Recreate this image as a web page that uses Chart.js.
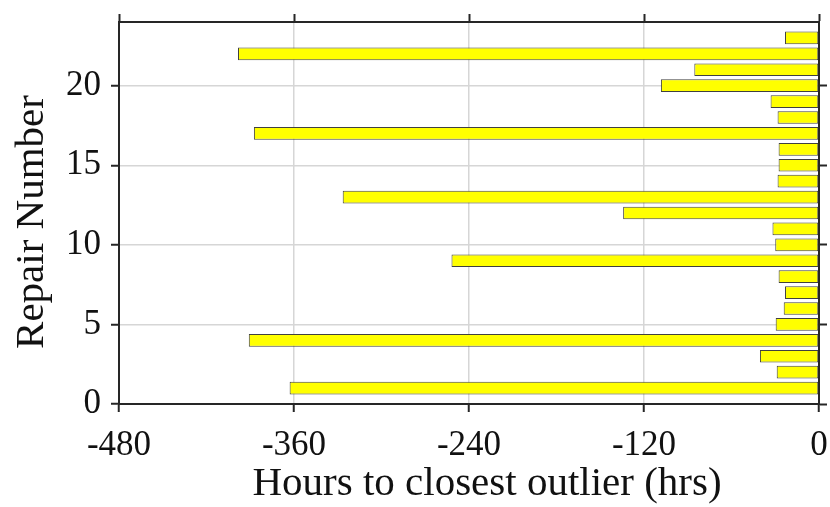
<!DOCTYPE html>
<html>
<head>
<meta charset="utf-8">
<script src="https://cdn.jsdelivr.net/npm/chart.js@4/dist/chart.umd.min.js"></script>
<style>
  html, body { margin: 0; padding: 0; background: #fff; }
  #wrap { width: 830px; height: 507px; }
</style>
</head>
<body>
<div id="wrap"><canvas id="repair-chart" width="830" height="507"></canvas></div>
<script>
// repair numbers and hours to the closest outlier
var repairNumbers = [1, 2, 3, 4, 5, 6, 7, 8, 9, 10, 11, 12, 13, 14, 15, 16, 17, 18, 19, 20, 21, 22, 23];
var hoursToOutlier = [-363, -29, -40.5, -391, -29.7, -24.2, -23.3, -27.7, -252, -30, -31.9, -134.3,
                      -326.6, -28.4, -27.7, -27.7, -387.5, -28.4, -33.2, -108.4, -85.5, -398.4, -23.3];
var xTicks = [-480, -360, -240, -120, 0];
var yTicks = [0, 5, 10, 15, 20];
var xLabel = 'Hours to closest outlier (hrs)';
var yLabel = 'Repair Number';

var serif = "'Liberation Serif', 'Times New Roman', serif";
var dark = '#262626';
var gridGrey = '#d6d6d6';

function fixTicks(list){
    return function(scale){ scale.ticks = list.map(function(v){ return {value: v}; }); };
}
// pin the axis box size so the plot area sits where it does in the figure
function fixSize(prop, size){
    return function(scale){
        scale[prop] = size;
        scale.paddingTop = scale.paddingBottom = scale.paddingLeft = scale.paddingRight = 0;
    };
}

// axis titles are drawn by hand: the figure's x title is not centred on the plot
var axisTitles = {
    id: 'axisTitles',
    afterDraw: function(chart){
        var c = chart.ctx;
        c.save();
        c.font = '41px ' + serif;
        c.fillStyle = '#111';
        c.textAlign = 'center';
        c.textBaseline = 'alphabetic';
        c.fillText(xLabel, 487, 495);
        c.translate(43, 222);
        c.rotate(-Math.PI / 2);
        c.fillText(yLabel, 0, 0);
        c.restore();
    }
};

var points = repairNumbers.map(function(n, i){ return {x: hoursToOutlier[i], y: n}; });

var ctx = document.getElementById('repair-chart');
new Chart(ctx, {
    type: 'bar',
    data: {
        datasets: [{
            data: points,
            backgroundColor: '#ffff00',
            borderColor: '#404040',
            borderWidth: 1,
            borderSkipped: false,
            barPercentage: 0.8,
            categoryPercentage: 1,
            xAxisID: 'x',
            yAxisID: 'y'
        }]
    },
    options: {
        indexAxis: 'y',
        responsive: false,
        animation: false,
        layout: { padding: 0 },
        plugins: { legend: { display: false }, tooltip: { enabled: false } },
        scales: {
            x: {
                type: 'linear', position: 'bottom', min: -480, max: 0,
                afterBuildTicks: fixTicks(xTicks),
                afterFit: fixSize('height', 103),
                grid: { color: gridGrey, lineWidth: 1.5, tickColor: dark, tickWidth: 2, tickLength: 8 },
                border: { color: dark, width: 2 },
                ticks: { color: '#111', padding: 13, maxRotation: 0, font: { family: serif, size: 35 } }
            },
            x2: {
                axis: 'x', type: 'linear', position: 'top', min: -480, max: 0,
                afterBuildTicks: fixTicks(xTicks),
                afterFit: fixSize('height', 22),
                grid: { drawOnChartArea: false, tickColor: dark, tickWidth: 2, tickLength: 8 },
                border: { color: dark, width: 2 },
                ticks: { display: false }
            },
            y: {
                type: 'linear', position: 'left', min: 0, max: 24, offset: false,
                afterBuildTicks: fixTicks(yTicks),
                afterFit: fixSize('width', 119),
                grid: { offset: false, color: gridGrey, lineWidth: 1.5, tickColor: dark, tickWidth: 2, tickLength: 8 },
                border: { color: dark, width: 2 },
                ticks: { color: '#111', padding: 10, font: { family: serif, size: 35 } }
            },
            y2: {
                axis: 'y', type: 'linear', position: 'right', min: 0, max: 24, offset: false,
                afterBuildTicks: fixTicks(yTicks),
                afterFit: fixSize('width', 11),
                grid: { offset: false, drawOnChartArea: false, tickColor: dark, tickWidth: 2, tickLength: 8 },
                border: { color: dark, width: 2 },
                ticks: { display: false }
            }
        }
    },
    plugins: [axisTitles]
});
</script>
</body>
</html>
